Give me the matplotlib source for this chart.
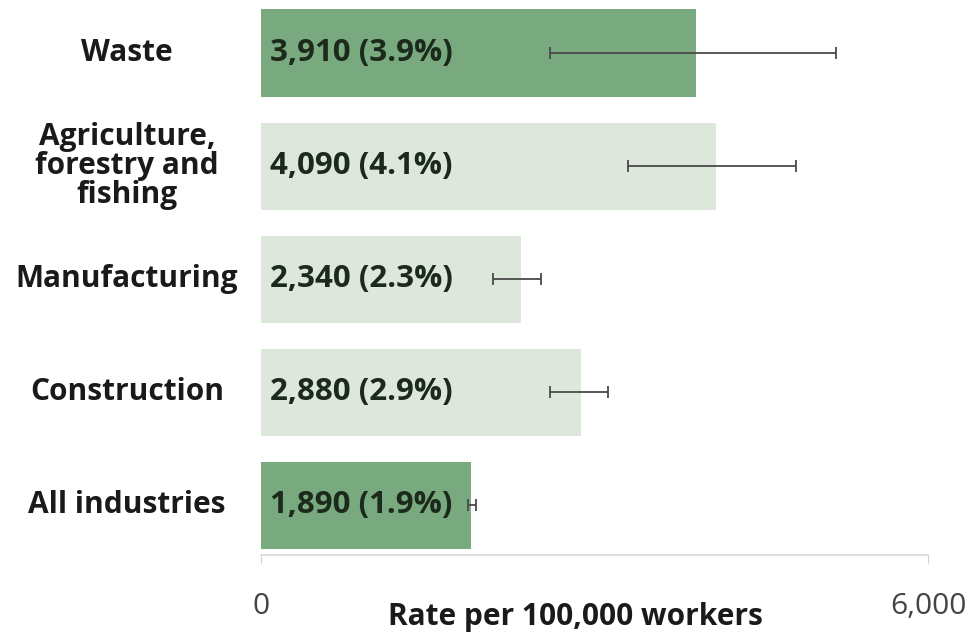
import matplotlib.pyplot as plt
from matplotlib.transforms import blended_transform_factory

# data, top to bottom as shown
industries = ["Waste", "Agriculture,\nforestry and\nfishing", "Manufacturing",
              "Construction", "All industries"]
rates = [3910, 4090, 2340, 2880, 1890]
percents = ["3.9%", "4.1%", "2.3%", "2.9%", "1.9%"]
ci_low = [2600, 3300, 2090, 2600, 1860]
ci_high = [5170, 4810, 2520, 3120, 1935]
highlight = [True, False, False, False, True]

dark_green = "#79a97f"
light_green = "#dde7dc"

plt.rcParams['font.family'] = ['Open Sans', 'DejaVu Sans']

fig = plt.figure(figsize=(9.69, 6.34), dpi=100)
ax = fig.add_axes([261 / 969, 79 / 634, 667 / 969, 555 / 634])

n = len(industries)
ypos = [n - 1 - i for i in range(n)]
colors = [dark_green if h else light_green for h in highlight]

ax.barh(ypos, rates, height=0.77, color=colors, zorder=2)

xerr = [[r - lo for r, lo in zip(rates, ci_low)],
        [hi - r for r, hi in zip(rates, ci_high)]]
ax.errorbar(rates, ypos, xerr=xerr, fmt='none', ecolor="#4a4a4a",
            elinewidth=1.3, capsize=4, capthick=1.3, zorder=3)

# value labels inside bars
for y, r, p in zip(ypos, rates, percents):
    ax.text(80, y, f"{r:,} ({p})", ha='left', va='center', fontsize=22.5,
            fontweight='bold', color="#1c2a1c", zorder=4)

# category labels, centred in the left margin
trans = blended_transform_factory(fig.transFigure, ax.transData)
for y, name in zip(ypos, industries):
    ax.text(127 / 969, y, name, transform=trans, ha='center', va='center',
            fontsize=21.5, fontweight='bold', color="#1a1a1a", linespacing=0.97)

ax.set_xlim(0, 6000)
ax.set_ylim(-0.442, 4.469)
ax.set_yticks([])
ax.set_xticks([0, 6000])
ax.set_xticklabels(["0", "6,000"], fontsize=21.5, color="#444444")
ax.tick_params(axis='x', length=6, color="#d0d0d0", pad=21)

for s in ['top', 'right', 'left']:
    ax.spines[s].set_visible(False)
ax.spines['bottom'].set_color("#d9d9d9")
ax.spines['bottom'].set_linewidth(1.2)

fig.text(575 / 969, 1 - 625 / 634, "Rate per 100,000 workers", ha='center',
         va='baseline', fontsize=21.5, fontweight='bold', color="#1a1a1a")

fig.savefig("out.png", dpi=100)
